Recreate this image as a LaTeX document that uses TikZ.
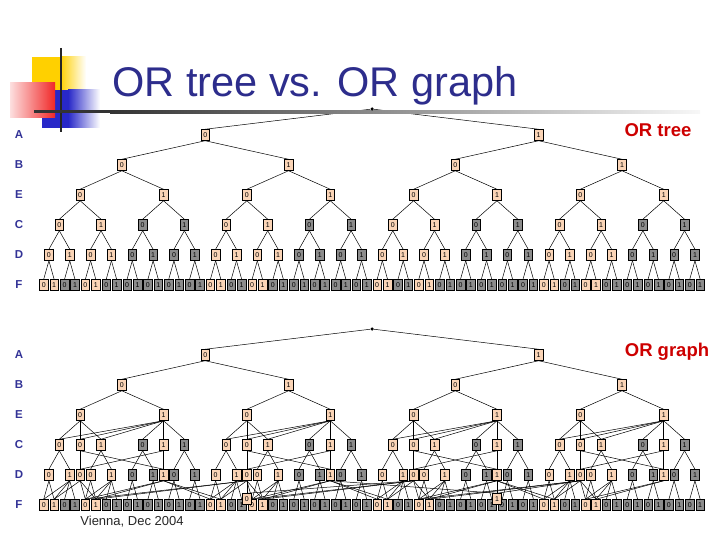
\documentclass[tikz,border=0pt]{standalone}
\usepackage{fontspec}
\setmainfont{Liberation Sans}
\definecolor{ortitle} {RGB}{45,45,140}
\definecolor{orlabel} {RGB}{50,50,150}
\definecolor{orpeach} {RGB}{250,212,182}
\definecolor{orgray}  {RGB}{140,140,140}
\definecolor{orred}   {RGB}{205,0,0}
\definecolor{oryellow}{RGB}{255,208,0}
\definecolor{orblue}  {RGB}{40,40,200}
\definecolor{orpink}  {RGB}{240,40,40}
\usetikzlibrary{backgrounds}
\tikzset{
  vbox/.style={rectangle,draw=black,line width=0.5pt,fill=#1,
               minimum width=8.6pt,minimum height=11pt,inner sep=0pt,
               font=\fontsize{7}{7}\selectfont},
  vbox/.default=orpeach,
  lvl/.style={font=\fontsize{11.5}{12}\selectfont\bfseries,text=orlabel},
  edge/.style={line width=0.5pt,black},
  rootdot/.style={circle,fill=black,inner sep=0pt,minimum size=3.5pt},
}

\begin{document}
\begin{tikzpicture}[x=1pt,y=-1pt]
  \useasboundingbox (0,0) rectangle (720,540);
  % corner logo
  \fill[oryellow] (32,57) rectangle (60,90);
  \shade[left color=oryellow,right color=white] (60,57) rectangle (86,90);
  \fill[orblue] (42,90) rectangle (68,128);
  \shade[left color=orblue,right color=white] (68,90) rectangle (100,128);
  \shade[left color=orpink!15,right color=orpink] (10,83) rectangle (55,118);
  \draw[line width=2pt,black!85] (61,48) -- (61,132);
  \fill[black!80] (34,110.5) rectangle (110,113.5);
  \shade[left color=black!80,right color=black!3] (110,110.5) rectangle (700,113.5);

  \node[font=\fontsize{41.5}{42}\selectfont,text=ortitle,anchor=base]
    (title) at (315,97) {OR tree vs. OR graph};
  \node[font=\fontsize{18.5}{19}\selectfont\bfseries,text=orred]
    (treelab) at (658,130) {OR tree};
  \node[font=\fontsize{18.5}{19}\selectfont\bfseries,text=orred]
    (graphlab) at (667,352) {OR graph};
  \node[font=\fontsize{13}{13}\selectfont,text=black!85]
    (venue) at (132,522) {Vienna, Dec 2004};

  % the tree, and the same tree under the graph
  \foreach \pre/\dy in {t/0,g/220}{
    \node[rootdot] (\pre root) at (372,109+\dy) {};
    \foreach \lab/\yy in {A/135,B/165,E/195,C/225,D/255,F/285}
      \node[lvl] (\pre lab\lab) at (19,\yy+\dy) {\lab};
    \foreach \j in {0,1}{
      \pgfmathsetmacro\xx{43.7+10.42*(32*\j+15.5)}
      \node[vbox] (\pre A-\j) at (\xx,135+\dy) {\j};
    }
    \foreach \lv/\n/\w/\yy in {B/3/16/165,E/7/8/195,C/15/4/225,
                               D/31/2/255,F/63/1/285}{
      \foreach \j in {0,...,\n}{
        \pgfmathsetmacro\xx{43.7+10.42*(\w*\j+(\w-1)/2)}
        \pgfmathtruncatemacro\bit{mod(\j,2)}
        \pgfmathtruncatemacro\isor{(\w>7) || ((mod(int(\j*\w/8),2)==0)
                                   && ((\w>1) || (mod(int(\j/2),2)==0)))}
        \ifnum\isor=1 \def\fc{orpeach}\else\def\fc{orgray}\fi
        \node[vbox=\fc] (\pre\lv-\j) at (\xx,\yy+\dy) {\bit};
      }
    }
  }

  % merged nodes of the graph
  \foreach \e in {0,...,7}{
    \pgfmathtruncatemacro\bit{mod(\e,2)}
    \node[vbox] (gCx-\e) at (gE-\e |- gC-0) {\bit};
    \node[vbox] (gDx-\e) at (gE-\e |- gD-0) {\bit};
  }
  \node[vbox] (gFx-0) at ([yshift=6pt]gE-2 |- gF-0) {0};
  \node[vbox] (gFx-1) at ([yshift=6pt]gE-5 |- gF-0) {1};

  \begin{scope}[on background layer]
    % tree edges (both pictures)
    \foreach \pre in {t,g}{
      \foreach \j in {0,1}
        \draw[edge] (\pre root) -- (\pre A-\j.north);
      \foreach \lv/\pl/\n in {B/A/3,E/B/7,C/E/15,D/C/31,F/D/63}{
        \foreach \j in {0,...,\n}{
          \pgfmathtruncatemacro\up{int(\j/2)}
          \draw[edge] (\pre\pl-\up.south) -- (\pre\lv-\j.north);
        }
      }
    }
    % extra edges of the graph
    \foreach \e in {0,...,7}{
      \draw[edge] (gE-\e.south) -- (gCx-\e.north);
      \draw[edge] (gCx-\e.south) -- (gDx-\e.north);
    }
    \foreach \g in {0,...,3}{
      \pgfmathtruncatemacro\ea{2*\g}
      \pgfmathtruncatemacro\eb{2*\g+1}
      \pgfmathtruncatemacro\ca{4*\g}
      \pgfmathtruncatemacro\cb{4*\g+1}
      \pgfmathtruncatemacro\da{8*\g+1}
      \pgfmathtruncatemacro\db{8*\g+3}
      \pgfmathtruncatemacro\fa{16*\g}
      \pgfmathtruncatemacro\fb{16*\g+1}
      \pgfmathtruncatemacro\fc{16*\g+4}
      \pgfmathtruncatemacro\fd{16*\g+5}
      \draw[edge] (gE-\eb.south) -- (gC-\ca.north);
      \draw[edge] (gE-\eb.south) -- (gCx-\ea.north);
      \draw[edge] (gE-\eb.south) -- (gC-\cb.north);
      \draw[edge] (gCx-\ea.south) -- (gDx-\eb.north);
      \draw[edge] (gCx-\eb.south) -- (gDx-\ea.north);
      \draw[edge] (gD-\da.south) -- (gF-\fa.north);
      \draw[edge] (gD-\da.south) -- (gF-\fb.north);
      \draw[edge] (gD-\db.south) -- (gF-\fc.north);
      \draw[edge] (gD-\db.south) -- (gF-\fd.north);
      \draw[edge] (gDx-\ea.south) -- (gF-\fb.north);
      \draw[edge] (gDx-\ea.south) -- (gF-\fc.north);
      \draw[edge] (gDx-\ea.south) -- (gF-\fd.north);
      \draw[edge] (gDx-\eb.south) -- (gF-\fc.north);
      \draw[edge] (gDx-\eb.south) -- (gF-\fd.north);
    }
    \foreach \g in {1,2,3}{
      \pgfmathtruncatemacro\ea{2*\g}
      \pgfmathtruncatemacro\fp{16*\g-12}
      \pgfmathtruncatemacro\fq{16*\g-11}
      \draw[edge] (gDx-\ea.south) -- (gF-\fp.north);
      \draw[edge] (gDx-\ea.south) -- (gF-\fq.north);
    }
    \foreach \g in {0,1,2}{
      \pgfmathtruncatemacro\eb{2*\g+1}
      \pgfmathtruncatemacro\fa{16*\g+16}
      \pgfmathtruncatemacro\fb{16*\g+17}
      \draw[edge] (gDx-\eb.south) -- (gF-\fa.north);
      \draw[edge] (gDx-\eb.south) -- (gF-\fb.north);
    }
    \draw[edge] (gDx-2.south) -- (gFx-0.north);
    \draw[edge] (gDx-5.south) -- (gFx-1.north);
    \draw[edge] (gDx-4.south) -- (gFx-0.north);
    \draw[edge] (gDx-3.south) -- (gFx-1.north);
    \draw[edge] (gDx-6.south) -- (gFx-1.north);
  \end{scope}
\end{tikzpicture}
\end{document}
